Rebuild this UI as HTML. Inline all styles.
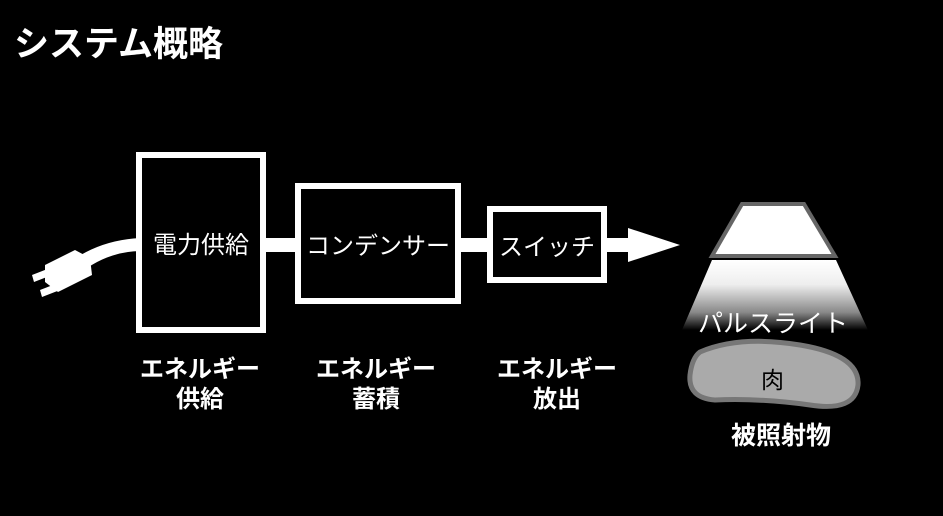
<!DOCTYPE html>
<html><head><meta charset="utf-8"><style>
body{margin:0;width:943px;height:516px;background:#000;overflow:hidden;position:relative;font-family:"Liberation Sans","Noto Sans CJK JP",sans-serif;color:#fff}
.t{position:absolute;white-space:nowrap}
.box{position:absolute;border:6px solid #fff;background:#000;box-sizing:border-box;display:flex;align-items:center;justify-content:center;font-size:24px}
.lbl{position:absolute;font-size:24px;text-align:center;line-height:30px;width:160px}
</style></head><body>
<div class="t" style="left:14px;top:16px;font-size:35px;font-weight:bold">システム概略</div>
<svg width="943" height="516" style="position:absolute;left:0;top:0">
<defs><linearGradient id="g" x1="0" y1="0" x2="0" y2="1"><stop offset="0" stop-color="#fff"/><stop offset="0.35" stop-color="#eee"/><stop offset="0.75" stop-color="#888"/><stop offset="1" stop-color="#000"/></linearGradient></defs>
<rect x="260" y="238" width="380" height="14" fill="#fff"/>
<polygon points="628,228 680,245 628,262" fill="#fff"/>
<path d="M70 262 Q100 240 140 238 L140 251 Q105 252 78 275 Z" fill="#fff"/>
<polygon points="45,265 75,250 90,258 92,275 58,292 45,282" fill="#fff"/>
<polygon points="32,275 50,268 52,275 34,282" fill="#fff"/>
<polygon points="40,290 58,283 60,290 42,297" fill="#fff"/>
<polygon points="712,260 836,260 868,330 682,330" fill="url(#g)"/>
<polygon points="742,204 804,204 835,256 712,256" fill="#fff" stroke="#666" stroke-width="4"/>
<path d="M700 352 Q740 335 800 345 Q860 355 858 385 Q855 412 810 405 Q760 398 715 400 Q688 398 690 375 Q692 358 700 352 Z" fill="#aaa" stroke="#777" stroke-width="5"/>
</svg>
<div class="box" style="left:136px;top:152px;width:130px;height:181px">電力供給</div>
<div class="box" style="left:295px;top:183px;width:166px;height:121px">コンデンサー</div>
<div class="box" style="left:487px;top:206px;width:120px;height:77px">スイッチ</div>
<div class="t" style="left:698px;top:304px;font-size:25px">パルスライト</div>
<div class="t" style="left:761px;top:361px;font-size:23px;color:#000">肉</div>
<div class="t" style="left:731px;top:416px;font-size:25px;font-weight:bold">被照射物</div>
<div class="lbl" style="left:120px;top:355px;font-weight:bold">エネルギー<br>供給</div>
<div class="lbl" style="left:296px;top:355px;font-weight:bold">エネルギー<br>蓄積</div>
<div class="lbl" style="left:477px;top:355px;font-weight:bold">エネルギー<br>放出</div>
</body></html>
